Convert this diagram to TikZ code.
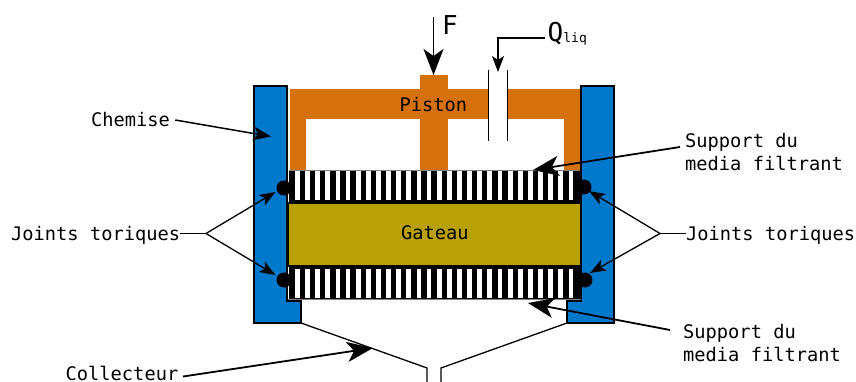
\documentclass[tikz,border=0pt]{standalone}
\usepackage{fontspec}
\setmainfont{DejaVu Sans Mono}
\usetikzlibrary{arrows.meta,calc}
\definecolor{chem}{HTML}{0079CC}
\definecolor{pist}{HTML}{D4710A}
\definecolor{gat}{HTML}{B8A005}
\tikzset{
  x=1pt,y=-1pt,
  lbl/.style={inner sep=0pt,font=\fontsize{18.7}{23}\selectfont,align=left},
  chemwall/.style={fill=chem,draw=black,line width=2pt,line join=miter},
  orange/.style={fill=pist,draw=none},
  joint/.style={circle,fill=black,draw=none,minimum size=15pt,inner sep=0pt},
  bighead/.style={-{Stealth[length=26pt,width=20pt,inset=7pt]},line width=1.8pt},
  midhead/.style={-{Stealth[length=18pt,width=14pt,inset=5pt]},line width=1.5pt},
  smallhead/.style={-{Stealth[length=16pt,width=12pt,inset=4pt]},line width=1.3pt},
  wire/.style={line width=1.3pt},
}
\begin{document}
\begin{tikzpicture}
\useasboundingbox (0,0) rectangle (856,382);
% piston
\fill[orange] (290,89) rectangle (580,119);
\fill[orange] (290,119) rectangle (306,171);
\fill[orange] (564,119) rectangle (580,171);
\fill[orange] (420,75) rectangle (448,171);
\fill[white] (488,89) rectangle (508,119);
\draw[wire] (488.3,70) -- (488.3,141);
\draw[wire] (507.8,70) -- (507.8,141);
% chemise
\draw[chemwall] (253.5,86) -- (287,86) -- (287,301) -- (301,301) -- (301,322.5) -- (253.5,322.5) -- cycle;
\draw[chemwall] (581,86) -- (614,86) -- (614,322.5) -- (567,322.5) -- (567,301) -- (581,301) -- cycle;
% supports
\fill[black] (289,170) rectangle (580,202);
\fill[black] (289,266) rectangle (580,299);
\draw[gray,line width=.8pt] (289,170.4) -- (580,170.4);
\draw[gray,line width=.8pt] (288,299.3) -- (581,299.3);
\foreach \i in {0,...,27} {
  \fill[white] ({295+\i*10.13},171.5) rectangle ({299.8+\i*10.13},200);
  \fill[white] ({295+\i*10.13},269) rectangle ({299.8+\i*10.13},297.5);
}
% gateau
\draw[fill=gat,draw=black,line width=2pt] (288,202.5) rectangle (581,266);
% joints
\node[joint] (jtl) at (284,188) {};
\node[joint] (jbl) at (284,280) {};
\node[joint] (jtr) at (584,187) {};
\node[joint] (jbr) at (585,280) {};
% collector
\coordinate (cl0) at (301,323);
\coordinate (cl1) at (427,368);
\coordinate (cl2) at (427,382);
\coordinate (cr0) at (567,323);
\coordinate (cr1) at (441,368);
\coordinate (cr2) at (441,382);
\draw[wire] (cl0) -- (cl1) -- (cl2);
\draw[wire] (cr0) -- (cr1) -- (cr2);
% labels
\node[lbl,anchor=west] (pistl) at (399.5,105) {Piston};
\node[lbl,anchor=west] (gatl) at (401,233) {Gateau};
\node[lbl,anchor=west] (chl) at (91,120) {Chemise};
\node[lbl,anchor=west] (jl) at (11,235) {Joints toriques};
\node[lbl,anchor=west] (jr) at (686,235) {Joints toriques};
\node[lbl,anchor=west] (st) at (685,152.5) {Support du\\media filtrant};
\node[lbl,anchor=west] (sb) at (683,343.5) {Support du\\media filtrant};
\node[lbl,anchor=west] (col) at (65.5,373.5) {Collecteur};
\node[inner sep=0pt,anchor=west,font=\fontsize{26}{30}\selectfont] (f) at (442,25) {F};
\node[inner sep=0pt,anchor=base west,font=\fontsize{26}{30}\selectfont] (q) at (547.5,42) {Q\raisebox{-1pt}{\fontsize{13}{15}\selectfont liq}};
% connectors
\coordinate (ftop) at (433.5,17);
\coordinate (fend) at (433.5,75);
\draw[bighead] (ftop) -- (fend);
\coordinate (qbend) at (498,38);
\coordinate (qend) at (498,72);
\coordinate (qstart) at (545,38);
\draw[smallhead] (qstart) -- (qbend) -- (qend);
\coordinate (chend) at (271,136.5);
\draw[midhead] (chl.east) ++(5,0) -- (chend);
\coordinate (stend) at (533,170);
\draw[bighead] (680,147) coordinate (ststart) -- (stend);
\coordinate (sbend) at (528,303);
\draw[bighead] (670,330) coordinate (sbstart) -- (sbend);
\coordinate (colend) at (373,348);
\draw[bighead] (183,376.5) coordinate (colstart) -- (colend);
% joints leaders
\coordinate (jln) at (206,233.5);
\coordinate (jrn) at (660,233.5);
\draw[wire] (jl.east |- jln) -- (jln);
\draw[wire] (jr.west |- jrn) -- (jrn);
\coordinate (a1) at (275.5,192);
\coordinate (a2) at (275.5,275);
\coordinate (a3) at (589,191);
\coordinate (a4) at (590,273);
\draw[smallhead] (jln) -- (a1);
\draw[smallhead] (jln) -- (a2);
\draw[smallhead] (jrn) -- (a3);
\draw[smallhead] (jrn) -- (a4);
\end{tikzpicture}
\end{document}
